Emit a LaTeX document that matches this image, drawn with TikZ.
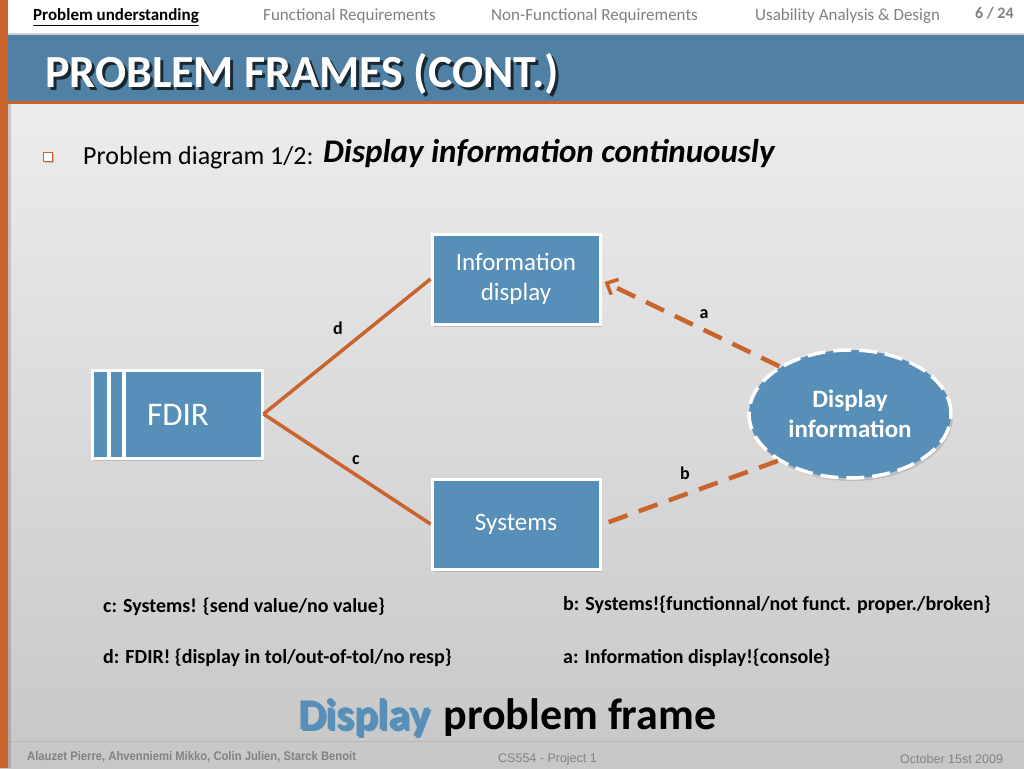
\documentclass[tikz,border=0pt]{standalone}
\usepackage{fontspec}
\setmainfont{Carlito}
\newfontfamily\footfont{Liberation Sans}
\usetikzlibrary{shapes.geometric,arrows.meta,shadows,calc}
\definecolor{boxblue}{RGB}{88,143,185}
\definecolor{bandblue}{RGB}{80,128,163}
\definecolor{accent}{RGB}{200,100,44}
\definecolor{navgray}{RGB}{128,128,128}
\definecolor{footgray}{RGB}{130,130,130}
\newcommand{\shadowtext}[3]{\makebox[0pt][l]{\hspace{#1}\raisebox{-#1}{\textcolor{#2}{#3}}}#3}
\begin{document}
\begin{tikzpicture}[x=1pt,y=-1pt,
  bluebox/.style={draw=white,line width=3pt,fill=boxblue,minimum width=168pt,minimum height=90pt,
    text=white,align=center,font=\fontsize{25}{30}\selectfont,
    drop shadow={shadow xshift=2pt,shadow yshift=-3pt,opacity=0.35}},
  solidlink/.style={draw=accent,line width=3.5pt},
  dashlink/.style={draw=accent,line width=4.5pt,dash pattern=on 20pt off 12pt},
  lbl/.style={font=\bfseries\fontsize{18}{20}\selectfont,anchor=base,inner sep=0pt},
  desc/.style={font=\bfseries\fontsize{20}{24}\selectfont,anchor=base west,inner sep=0pt},
  nav/.style={font=\fontsize{17}{20}\selectfont,text=navgray,anchor=base west,inner sep=0pt},
  foot/.style={font=\footfont\fontsize{12.5}{14}\selectfont,text=footgray,anchor=base west,inner sep=0pt}
]
\useasboundingbox (0,0) rectangle (1024,768);
% background
\shade[top color=white!95!black,bottom color=white!78!black] (0,0) rectangle (1024,768);
\fill[white] (0,0) rectangle (1024,33);
\fill[black,opacity=0.12] (0,33) rectangle (1024,37);
% title band
\fill[black,opacity=0.25] (8,37) rectangle (1024,104);
\fill[bandblue] (8,35) rectangle (1024,101);
\fill[accent] (8,101) rectangle (1024,104);
% left strip
\fill[accent] (0,0) rectangle (8,768);
\fill[black,opacity=0.15] (8,104) rectangle (11,768);
% footer line
\draw[white!68!accent!80!black,opacity=0.5,line width=1pt] (11,741) -- (1024,741);
% nav
\node[nav,text=black,font=\bfseries\fontsize{17}{20}\selectfont] (n1) at (33,21) {\underline{Problem understanding}};
\node[nav] (n2) at (263,21) {Functional Requirements};
\node[nav] (n3) at (491,21) {Non-Functional Requirements};
\node[nav] (n4) at (755,21) {Usability Analysis \& Design};
\node[nav,font=\bfseries\fontsize{16}{20}\selectfont] (n5) at (975,19) {6 / 24};
% title
\node[anchor=base west,inner sep=0pt,text=white,font=\bfseries\fontsize{46}{50}\selectfont] (title) at (45,87) {\shadowtext{3pt}{black!70!bandblue}{PROBLEM FRAMES (CONT.)}};
% bullet
\node[draw=accent,fill=white,line width=1.2pt,minimum size=9pt,inner sep=0pt,drop shadow={shadow xshift=1pt,shadow yshift=-1pt,opacity=0.4}] (bul) at (48,157) {};
\node[anchor=base west,inner sep=0pt,font=\fontsize{26}{30}\selectfont] (intro) at (83,164) {Problem diagram 1/2:};
\node[anchor=base west,inner sep=0pt,font=\bfseries\itshape\fontsize{33}{36}\selectfont] (introb) at (323,162) {Display information continuously};
% nodes
\node[bluebox] (info) at (516,279) {Information\\display};
\node[bluebox] (sys) at (516,524) {Systems};
\node[bluebox,minimum width=170pt,minimum height=88pt] (fdir) at (177,414) {};
\node[text=white,font=\fontsize{33}{36}\selectfont,anchor=base,inner sep=0pt] (fdirt) at (178,425) {FDIR};
\fill[white] (107,370.5) rectangle (111,458.5);
\fill[white] (122,370.5) rectangle (126,458.5);
\node[ellipse,fill=boxblue,draw=white,line width=3.5pt,dash pattern=on 18pt off 8pt,minimum width=202pt,minimum height=128pt,
  text=white,align=center,font=\bfseries\fontsize{25}{30}\selectfont,drop shadow={shadow xshift=2pt,shadow yshift=-3pt,opacity=0.3}] (disp) at (850,414) {Display\\information};
% links
\draw[solidlink] (fdir.east) -- (info.west);
\draw[solidlink] (fdir.east) -- (sys.west);
\draw[dashlink,-{Straight Barb[length=9pt,width=17pt,line width=3.5pt]}] (disp.146) -- ($(info.east)+(3,3)$);
\draw[dashlink] (disp.213) -- ($(sys.east)+(2,0)$);
% labels
\node[lbl] (ld) at (338,334) {d};
\node[lbl] (lc) at (356,464) {c};
\node[lbl] (la) at (704,318) {a};
\node[lbl] (lb) at (685,479) {b};
% descriptions
\node[desc] (dc) at (103,612) {c: Systems! \{send value/no value\}};
\node[desc] (dd) at (103,663) {d: FDIR! \{display in tol/out-of-tol/no resp\}};
\node[desc] (db) at (563,610) {b: Systems!\{functionnal/not funct. proper./broken\}};
\node[desc] (da) at (563,663) {a: Information display!\{console\}};
% frame caption
\node[anchor=base west,inner sep=0pt,font=\bfseries\fontsize{44}{48}\selectfont] (cap) at (298,729) {\shadowtext{2pt}{black!35}{\textcolor{boxblue}{Display}}\hspace{3pt} problem frame};
% footer
\node[foot,font=\footfont\bfseries\fontsize{12.5}{14}\selectfont] (f1) at (27,760) {\scalebox{0.9}[1]{Alauzet Pierre, Ahvenniemi Mikko, Colin Julien, Starck Benoit}};
\node[foot] (f2) at (498,762) {CS554 - Project 1};
\node[foot] (f3) at (900,763) {October 15st 2009};
\end{tikzpicture}
\end{document}
